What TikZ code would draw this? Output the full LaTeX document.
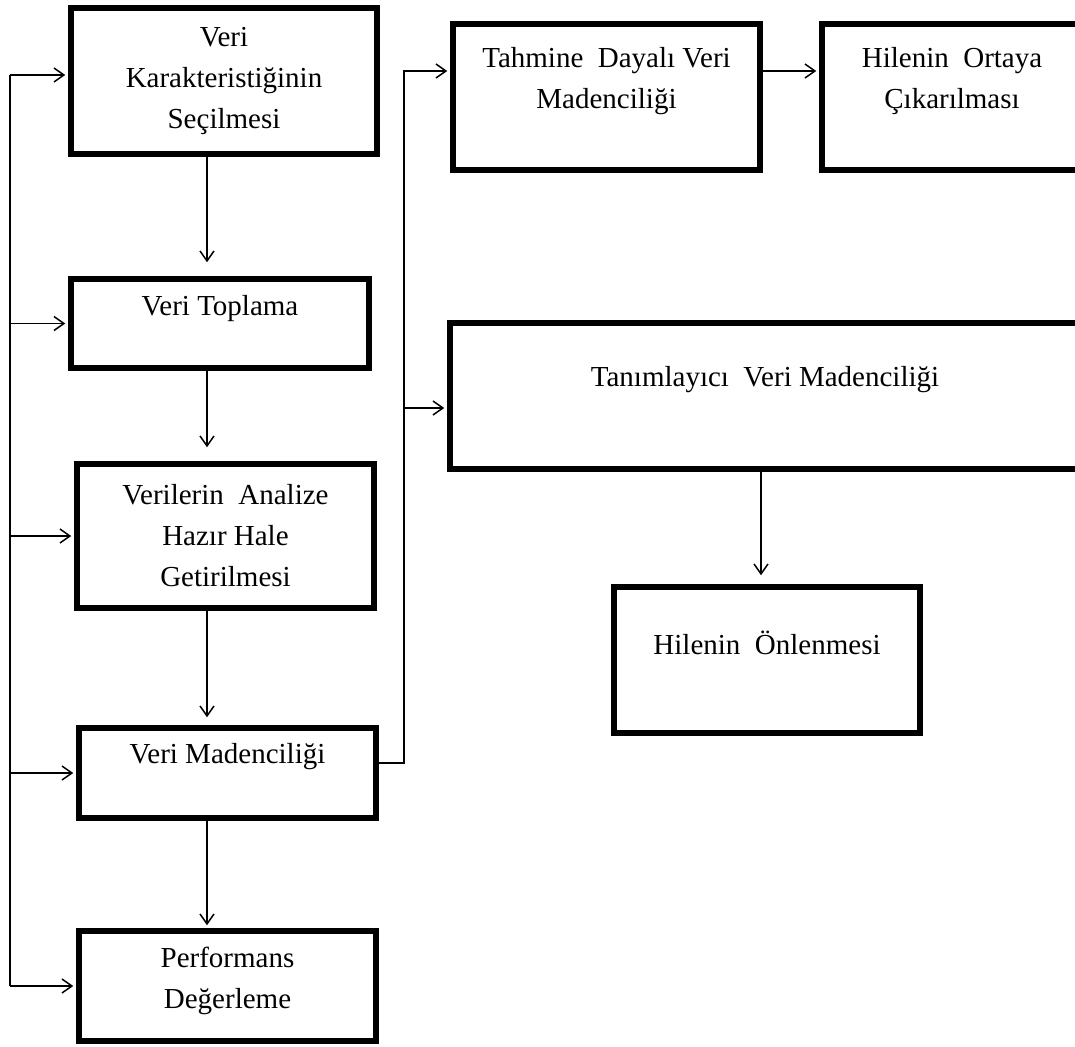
\documentclass[tikz,border=0pt]{standalone}
\usepackage{fontspec}
\setmainfont{Liberation Serif}
\usetikzlibrary{arrows.meta}

\tikzset{
  kutu/.style={draw, line width=5.5pt, inner sep=0pt},
  yazi/.style={font=\fontsize{29}{41}\selectfont, align=center, inner sep=0pt},
  cizgi/.style={line width=1.5pt},
  ok/.style={cizgi, -{Straight Barb[length=10pt,width=14pt,line width=1.5pt]}}
}

\begin{document}
\begin{tikzpicture}[x=1pt, y=-1pt]
        \useasboundingbox (0,0) rectangle (1075,1046);
        \clip (0,0) rectangle (1075,1046);

        \node[kutu, minimum width=306pt, minimum height=146pt] (b1) at (224,81) {};
        \node[kutu, minimum width=298pt, minimum height=89pt] (b2) at (220,323.5) {};
        \node[kutu, minimum width=297pt, minimum height=144pt] (b3) at (225.5,536) {};
        \node[kutu, minimum width=297pt, minimum height=90pt] (b4) at (227.5,773) {};
        \node[kutu, minimum width=297pt, minimum height=110pt] (b5) at (227.5,986) {};
        \node[kutu, minimum width=307pt, minimum height=146pt] (t1) at (606.5,97) {};
        \node[kutu, minimum width=260pt, minimum height=146pt] (t2) at (952,97) {};
        \node[kutu, minimum width=630pt, minimum height=146pt] (t3) at (765,396) {};
        \node[kutu, minimum width=306pt, minimum height=146pt] (t4) at (767,660) {};

        \node[yazi] (y1) at (b1) {Veri\\Karakteristiğinin\\Seçilmesi};
        \node[yazi, yshift=15pt] (y2) at (b2) {Veri Toplama};
        \node[yazi] (y3) at (b3) {Verilerin\ \ Analize\\Hazır Hale\\Getirilmesi};
        \node[yazi, yshift=16pt] (y4) at (b4) {Veri Madenciliği};
        \node[yazi, yshift=5pt] (y5) at (b5) {Performans\\Değerleme};
        \node[yazi, yshift=16pt] (z1) at (t1) {Tahmine\ \ Dayalı Veri\\Madenciliği};
        \node[yazi, yshift=16pt] (z2) at (t2) {Hilenin\ \ Ortaya\\Çıkarılması};
        \node[yazi, yshift=16pt] (z3) at (t3) {Tanımlayıcı\ \ Veri Madenciliği};
        \node[yazi, yshift=17pt] (z4) at (t4) {Hilenin\ \ Önlenmesi};

        \coordinate (hat) at (207,0);
        \draw[ok, shorten >=14pt] (b1.south -| hat) -- (b2.north -| hat);
        \draw[ok, shorten >=14pt] (b2.south -| hat) -- (b3.north -| hat);
        \draw[ok, shorten >=8pt] (b3.south -| hat) -- (b4.north -| hat);
        \draw[ok, shorten >=3pt] (b4.south -| hat) -- (b5.north -| hat);

        \coordinate (sol) at (10,0);
        \coordinate (g1) at ([yshift=6pt]b1.west);
        \draw[cizgi] (sol |- g1) -- (sol |- b5.west);
        \draw[ok, shorten >=3pt] (sol |- g1) -- (g1);
        \draw[ok, shorten >=3pt] (sol |- b2.west) -- (b2.west);
        \draw[ok, shorten >=3pt] (sol |- b3.west) -- (b3.west);
        \draw[ok, shorten >=3pt] (sol |- b4.west) -- (b4.west);
        \draw[ok, shorten >=3pt] (sol |- b5.west) -- (b5.west);

        \coordinate (sag) at (404,0);
        \coordinate (g4) at ([yshift=10pt]b4.east);
        \coordinate (g5) at ([yshift=26pt]t1.west);
        \coordinate (g6) at ([yshift=-12pt]t3.west);
        \draw[ok, shorten >=3pt] (g4) -- (sag |- g4) -- (sag |- g5) -- (g5);
        \draw[ok, shorten >=3pt] (sag |- g6) -- (g6);
        \draw[ok, shorten >=3pt] (g5 -| t1.east) -- (g5 -| t2.west);

        \coordinate (asagi) at (761,0);
        \draw[ok, shorten >=9pt] (t3.south -| asagi) -- (t4.north -| asagi);
      \end{tikzpicture}
\end{document}
